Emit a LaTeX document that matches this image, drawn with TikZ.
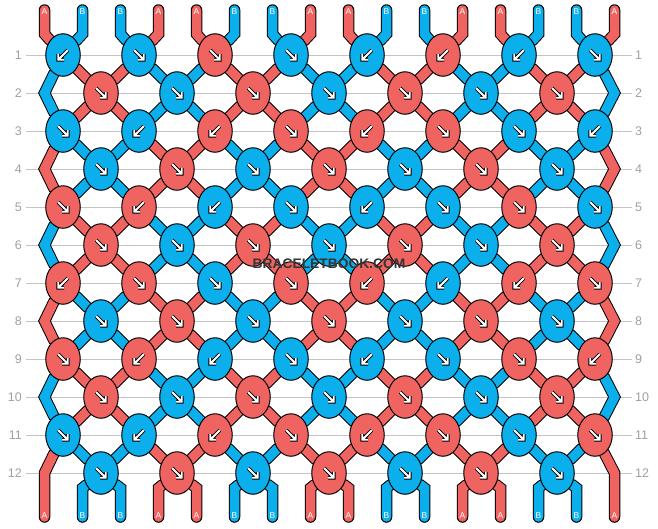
\documentclass[tikz,border=0pt]{standalone}
\usepackage{fontspec}
\setmainfont{Liberation Sans}
\usetikzlibrary{shapes.geometric,backgrounds}

\definecolor{colA}{HTML}{EF6461}
\definecolor{colB}{HTML}{0AAFEC}
\definecolor{rowgrey}{HTML}{A0A0A0}
\definecolor{guidegrey}{HTML}{C4C4C4}
\definecolor{wmgrey}{HTML}{353535}

\tikzset{
  knot/.style={ellipse,draw=black,line width=1pt,minimum width=34.5pt,
    minimum height=42.5pt,inner sep=0pt},
  rim0/.style={line width=11.5pt,black,line join=miter,line cap=round},
  rim1/.style={rim0},
  core0/.style={line width=9.5pt,colB,line join=miter,line cap=round},
  core1/.style={core0,colA},
  tipback/.style={line width=3.8pt,black,line cap=square,line join=miter},
  tipfront/.style={line width=1.8pt,white,line cap=square,line join=miter},
  se/.pic={
    \draw[tipback] (-4.8,-4.8) -- (4.8,4.8) (4.8,-1) -- (4.8,4.8) -- (-1,4.8);
    \draw[tipfront] (-4.8,-4.8) -- (4.8,4.8) (4.8,-1) -- (4.8,4.8) -- (-1,4.8);
  },
  sw/.pic={
    \draw[tipback] (4.8,-4.8) -- (-4.8,4.8) (-4.8,-1) -- (-4.8,4.8) -- (1,4.8);
    \draw[tipfront] (4.8,-4.8) -- (-4.8,4.8) (-4.8,-1) -- (-4.8,4.8) -- (1,4.8);
  },
  rowno/.style={text=rowgrey,font=\fontsize{12.5}{14}\selectfont,inner sep=0pt},
  tag/.style={text=white,font=\fontsize{8.5}{10}\selectfont,inner sep=0pt},
  guide/.style={guidegrey,line width=1pt},
  watermark/.style={text=wmgrey,font=\bfseries\fontsize{13.8}{15}\selectfont,inner sep=0pt}
}

% all threads, #1 = rim or core
\newcommand\cords[1]{%
  % from the top
  \foreach \p in {1,...,16}{
    \pgfmathtruncatemacro\i{(\p+1)/2}
    \pgfmathtruncatemacro\c{mod(\p,4)<2}
    \draw[#1\c] (t-\p) -- (tb-\p) -- (k-1-\i);
  }
  % row to row
  \foreach \r in {1,...,11}{
    \foreach \p in {2,...,15}{
      \pgfmathtruncatemacro\i{(\p+mod(\r,2))/2}
      \pgfmathtruncatemacro\j{(\p+mod(\r+1,2))/2}
      \pgfmathtruncatemacro\s{\r+1}
      \pgfmathtruncatemacro\c{mod((mod(\p,4)<2)+(mod(\r+3,4)<2),2)}
      \draw[#1\c] (k-\r-\i) -- (k-\s-\j);
    }
  }
  % turns at the sides
  \foreach \r in {2,4,...,10}{
    \pgfmathtruncatemacro\u{\r-1}
    \pgfmathtruncatemacro\s{\r+1}
    \pgfmathtruncatemacro\c{mod(\r,4)==0}
    \draw[#1\c] (k-\u-1) -- (k-\r-0) -- (k-\s-1);
    \draw[#1\c] (k-\u-8) -- (k-\r-8) -- (k-\s-8);
  }
  \draw[#11] (k-11-1) -- (k-12-0) -- (b-1);
  \draw[#11] (k-11-8) -- (k-12-8) -- (b-16);
  % to the bottom
  \foreach \p in {2,...,15}{
    \pgfmathtruncatemacro\j{\p/2}
    \pgfmathtruncatemacro\c{mod(\p,4)<2}
    \draw[#1\c] (k-12-\j) -- (bb-\p) -- (b-\p);
  }
}

\begin{document}
\begin{tikzpicture}[x=1pt,y=-1pt]
  \useasboundingbox (0,0) rectangle (658,528);

  % row numbers
  \foreach \r in {1,...,12}{
    \node[rowno,anchor=east] (ln-\r) at (22,{38*\r+17}) {\r};
    \node[rowno,anchor=west] (rn-\r) at (635,{38*\r+17}) {\r};
  }

  % knots
  \foreach \r/\row in {
      1/{B/sw,B/se,A/se,B/se,B/sw,A/sw,B/sw,B/se},
      2/{A/se,B/se,A/se,B/se,A/se,B/se,A/se},
      3/{B/se,B/sw,A/sw,A/se,A/sw,A/se,B/se,B/sw},
      4/{B/se,A/se,B/se,A/se,B/se,A/se,B/se},
      5/{A/se,A/sw,B/sw,B/se,B/sw,B/se,A/se,B/se},
      6/{A/se,B/se,A/se,B/se,A/se,B/se,A/se},
      7/{A/sw,A/se,B/se,A/se,A/sw,B/sw,A/sw,A/se},
      8/{B/se,A/se,B/se,A/se,B/se,A/se,B/se},
      9/{A/se,A/sw,B/sw,B/se,B/sw,B/se,A/se,A/sw},
      10/{A/se,B/se,A/se,B/se,A/se,B/se,A/se},
      11/{B/se,B/sw,A/sw,A/se,A/sw,A/se,B/se,A/se},
      12/{B/se,A/se,B/se,A/se,B/se,A/se,B/se}}{
    \pgfmathsetmacro\y{38*\r+17}
    \pgfmathsetmacro\dx{mod(\r,2)==1 ? -13 : 25}
    \foreach \c/\d [count=\i] in \row {
      \node[knot,fill=col\c] (k-\r-\i) at ({76*\i+\dx},\y) {};
      \pic at (k-\r-\i) {\d};
    }
  }

  % side turning points
  \foreach \r in {2,4,...,12}{
    \coordinate (k-\r-0) at (44.5,{38*\r+17});
    \coordinate (k-\r-8) at (614.5,{38*\r+17});
  }

  % thread ends
  \foreach \l [count=\p] in {A,B,B,A,A,B,B,A,A,B,B,A,A,B,B,A}{
    \coordinate (t-\p) at ({38*\p+6.5},10);
    \coordinate (tb-\p) at ({38*\p+6.5},34);
    \coordinate (bb-\p) at ({38*\p+6.5},488);
    \coordinate (b-\p) at ({38*\p+6.5},517);
    \node[tag] (tl-\p) at ({38*\p+6.5},12) {\l};
    \node[tag] (bl-\p) at ({38*\p+6.5},515.5) {\l};
  }

  \begin{pgfonlayer}{background}
    \foreach \r in {1,...,12}
      \draw[guide,shorten <=4pt,shorten >=3pt] (ln-\r.east) -- (rn-\r.west);
    \cords{rim}
    \cords{core}
  \end{pgfonlayer}

  \node[watermark] (wm) at (329,263.5) {BRACELETBOOK.COM};
\end{tikzpicture}
\end{document}
